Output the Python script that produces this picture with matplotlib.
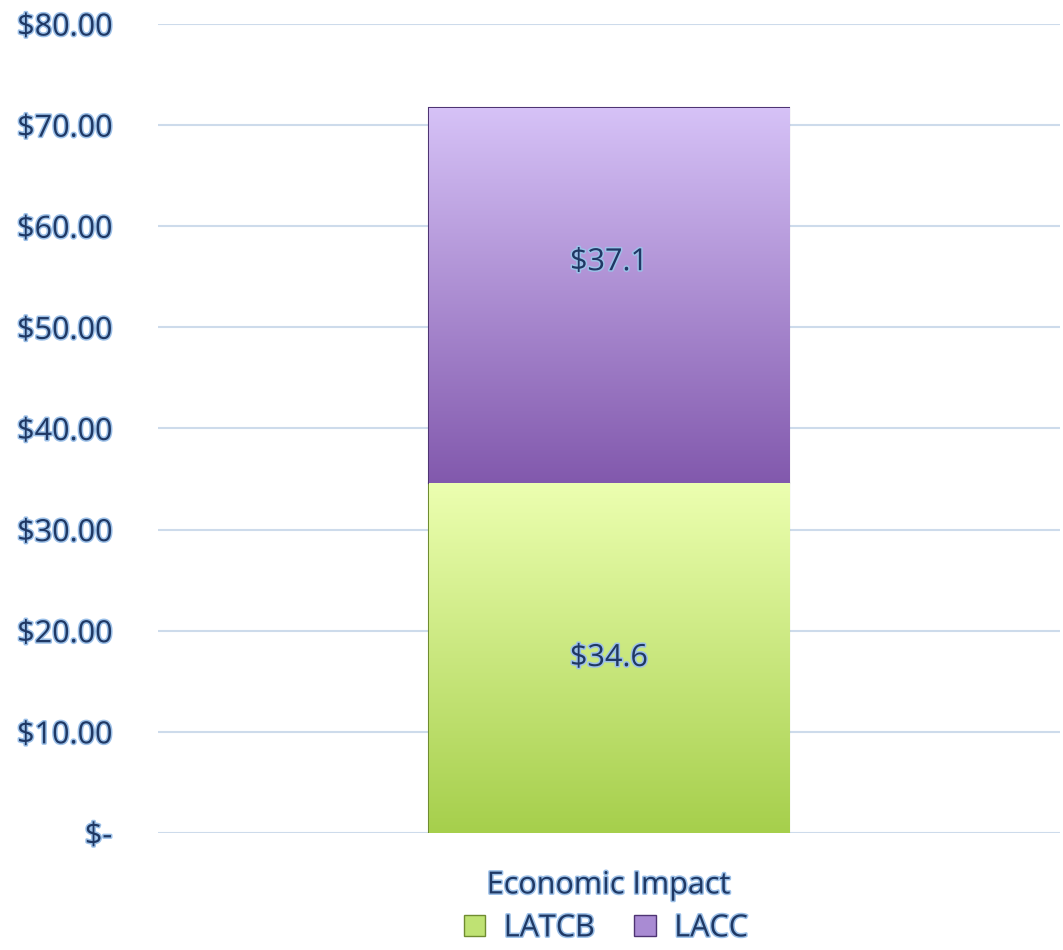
import numpy as np
import matplotlib.pyplot as plt
import matplotlib.patheffects as pe
from matplotlib.colors import LinearSegmentedColormap
from matplotlib.patches import Patch

categories = ["Economic Impact"]
series_names = ["LATCB", "LACC"]
latcb = [34.6]
lacc = [37.1]
yticks = [0, 10, 20, 30, 40, 50, 60, 70, 80]

text_color = "#1f3864"
glow = [pe.withStroke(linewidth=2.2, foreground="#9cc0e8")]

# gradient colours (top, bottom) for each series
grads = {
    "LATCB": ("#ecffb0", "#a6cf4c"),
    "LACC": ("#d6c2f7", "#8259ad"),
}
edges = {"LATCB": "#6f8c30", "LACC": "#4e3473"}
legend_fill = {"LATCB": "#bfe273", "LACC": "#a98bd3"}
label_shift = {"LATCB": 0, "LACC": 24}  # points, as in the original chart

plt.rcParams["font.family"] = ["Open Sans", "DejaVu Sans"]

fig = plt.figure(figsize=(10.63, 9.5), dpi=100)
ax = fig.add_axes([0.1486, 0.1232, 0.8484, 0.8515])

x = np.arange(len(categories))
width = 0.4

bottoms = np.zeros(len(categories))
for name, vals in zip(series_names, [latcb, lacc]):
    bars = ax.bar(x, vals, width, bottom=bottoms, color=grads[name][1],
                  edgecolor=edges[name], linewidth=1.5, zorder=2, label=name)
    cmap = LinearSegmentedColormap.from_list(name, [grads[name][1], grads[name][0]])
    for rect, v, b in zip(bars, vals, bottoms):
        x0 = rect.get_x()
        x1 = x0 + rect.get_width()
        grad = np.linspace(0, 1, 256).reshape(-1, 1)
        im = ax.imshow(grad, cmap=cmap, origin="lower", aspect="auto",
                       extent=(x0, x1, b, b + v), zorder=2.5)
        im.set_clip_path(rect)
        ax.annotate(f"${v:.1f}", xy=(x0 + rect.get_width() / 2, b + v / 2),
                    xytext=(0, label_shift[name]), textcoords="offset points",
                    ha="center", va="center", fontsize=22, color=text_color,
                    path_effects=glow, zorder=4)
    bottoms = bottoms + np.array(vals)

ax.set_xlim(-0.5, 0.5)
ax.set_ylim(0, 80)
ax.set_yticks(yticks)
ax.set_yticklabels(["$-" if t == 0 else f"${t:.2f}" for t in yticks])
ax.set_xticks(x)
ax.set_xticklabels(categories)
for lab in ax.get_yticklabels() + ax.get_xticklabels():
    lab.set_fontsize(22)
    lab.set_color(text_color)
    lab.set_path_effects(glow)
ax.tick_params(axis="both", length=0)
ax.tick_params(axis="y", pad=33)
ax.tick_params(axis="x", pad=27)
ax.grid(axis="y", color="#cddbeb", linewidth=1.5, zorder=0)
ax.set_axisbelow(True)
for s in ax.spines.values():
    s.set_visible(False)

handles = [Patch(facecolor=legend_fill[n], edgecolor=edges[n]) for n in series_names]
leg = fig.legend(handles, series_names, loc="lower center", ncol=2,
                 bbox_to_anchor=(0.57, -0.022), frameon=False, fontsize=22,
                 handlelength=0.7, handleheight=0.7, handletextpad=0.6,
                 columnspacing=1.3)
for t in leg.get_texts():
    t.set_color(text_color)
    t.set_path_effects(glow)

fig.savefig("out.png", dpi=100)
